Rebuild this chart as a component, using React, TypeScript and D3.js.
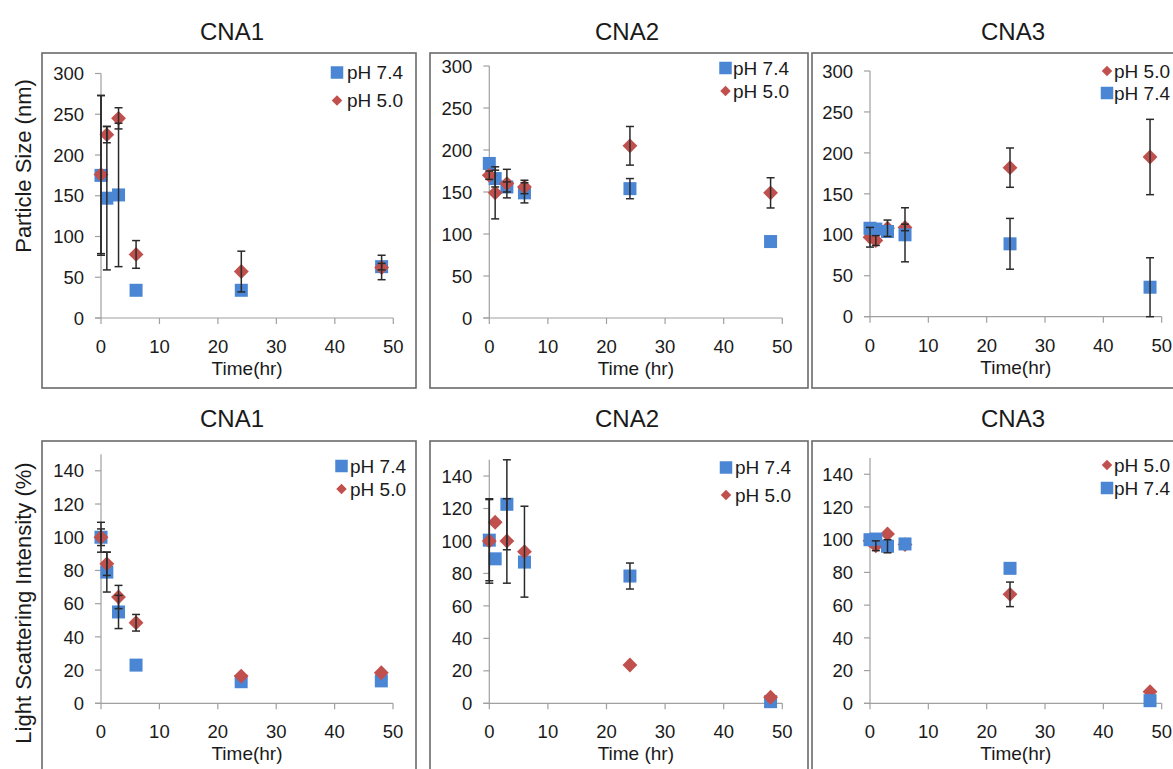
import { useEffect } from 'react'
import * as d3 from 'd3'

const TIMES = [0, 1, 3, 6, 24, 48]
const X_TICKS = [0, 10, 20, 30, 40, 50]
const Y_TICKS_SIZE = [0, 50, 100, 150, 200, 250, 300]
const Y_TICKS_LSI = [0, 20, 40, 60, 80, 100, 120, 140]

// particle size (nm)
const SIZE_CNA1_PH74 = [175, 147, 151, 34, 34, 63]
const SIZE_CNA1_PH74_ERR = [98, 88, 88, 0, 0, 4]
const SIZE_CNA1_PH50 = [176, 225, 245, 78, 57, 62]
const SIZE_CNA1_PH50_ERR = [97, 10, 13, 17, 25, 15]

const SIZE_CNA2_PH74 = [184, 166, 156, 149, 154, 91]
const SIZE_CNA2_PH74_ERR = [0, 10, 6, 12, 12, 0]
const SIZE_CNA2_PH50 = [170, 149, 160, 156, 205, 149]
const SIZE_CNA2_PH50_ERR = [5, 31, 17, 8, 23, 18]

const SIZE_CNA3_PH50 = [97, 93, 108, 109, 182, 195]
const SIZE_CNA3_PH50_ERR = [12, 6, 10, 4, 24, 46]
const SIZE_CNA3_PH74 = [108, 107, 104, 100, 89, 36]
const SIZE_CNA3_PH74_ERR = [0, 0, 0, 33, 31, 36]

// light scattering intensity (%)
const LSI_CNA1_PH74 = [100, 79, 55, 23, 13, 13.5]
const LSI_CNA1_PH74_ERR = [9, 12, 10, 0, 0, 0]
const LSI_CNA1_PH50 = [100, 84, 64, 48.5, 16.4, 18.4]
const LSI_CNA1_PH50_ERR = [5, 7, 7, 5, 0, 0]

const LSI_CNA2_PH74 = [100.5, 89, 122.6, 87, 78.4, 1]
const LSI_CNA2_PH74_ERR = [25, 0, 28, 0, 8, 0]
const LSI_CNA2_PH50 = [100, 111.5, 100, 93.4, 23.6, 3.7]
const LSI_CNA2_PH50_ERR = [26, 0, 26, 28, 0, 0]

const LSI_CNA3_PH50 = [99.4, 96.3, 103.5, 97, 66.6, 7.1]
const LSI_CNA3_PH50_ERR = [0, 3, 0, 0, 7.5, 0]
const LSI_CNA3_PH74 = [100, 100.4, 96, 97.4, 82.5, 1.6]
const LSI_CNA3_PH74_ERR = [0, 0, 4, 0, 0, 0]

const BLUE = '#4a86d4'
const RED = '#c0504d'
const FONT = '"Liberation Sans", Arial, sans-serif'

const ph74 = (values, errs) => ({ label: 'pH 7.4', kind: 'square', color: BLUE, values, errs })
const ph50 = (values, errs) => ({ label: 'pH 5.0', kind: 'diamond', color: RED, values, errs })

const PANELS = [
  {
    title: 'CNA1', frame: [42, 53, 374, 335], xr: [101, 393.3], yr: [318, 73.5], yMax: 300,
    yTicks: Y_TICKS_SIZE, xLabel: 'Time(hr)', titleX: 232, titleY: 40,
    series: [ph74(SIZE_CNA1_PH74, SIZE_CNA1_PH74_ERR), ph50(SIZE_CNA1_PH50, SIZE_CNA1_PH50_ERR)],
    legend: { mx: 337, tx: 347, rows: [72.5, 100.5] },
  },
  {
    title: 'CNA2', frame: [430, 53, 378, 335], xr: [489.3, 782.3], yr: [318, 66], yMax: 300,
    yTicks: Y_TICKS_SIZE, xLabel: 'Time (hr)', titleX: 627, titleY: 40,
    series: [ph74(SIZE_CNA2_PH74, SIZE_CNA2_PH74_ERR), ph50(SIZE_CNA2_PH50, SIZE_CNA2_PH50_ERR)],
    legend: { mx: 725.5, tx: 733, rows: [68, 91] },
  },
  {
    title: 'CNA3', frame: [812, 53, 380, 335], xr: [870, 1161.7], yr: [316.7, 71], yMax: 300,
    yTicks: Y_TICKS_SIZE, xLabel: 'Time(hr)', titleX: 1013, titleY: 40,
    series: [ph50(SIZE_CNA3_PH50, SIZE_CNA3_PH50_ERR), ph74(SIZE_CNA3_PH74, SIZE_CNA3_PH74_ERR)],
    legend: { mx: 1107, tx: 1114, rows: [71, 93] },
  },
  {
    title: 'CNA1', frame: [42, 441, 374, 335], xr: [101, 393], yr: [703.3, 454.2], yMax: 150,
    yTicks: Y_TICKS_LSI, xLabel: 'Time(hr)', titleX: 232, titleY: 427,
    series: [ph74(LSI_CNA1_PH74, LSI_CNA1_PH74_ERR), ph50(LSI_CNA1_PH50, LSI_CNA1_PH50_ERR)],
    legend: { mx: 341.5, tx: 350, rows: [466, 489] },
  },
  {
    title: 'CNA2', frame: [430, 441, 378, 335], xr: [489.3, 782.3], yr: [703.3, 459.8], yMax: 150,
    yTicks: Y_TICKS_LSI, xLabel: 'Time (hr)', titleX: 627, titleY: 427,
    series: [ph74(LSI_CNA2_PH74, LSI_CNA2_PH74_ERR), ph50(LSI_CNA2_PH50, LSI_CNA2_PH50_ERR)],
    legend: { mx: 726, tx: 735, rows: [467.5, 495] },
  },
  {
    title: 'CNA3', frame: [812, 441, 380, 335], xr: [870, 1161.7], yr: [703.3, 457.9], yMax: 150,
    yTicks: Y_TICKS_LSI, xLabel: 'Time(hr)', titleX: 1013, titleY: 427,
    series: [ph50(LSI_CNA3_PH50, LSI_CNA3_PH50_ERR), ph74(LSI_CNA3_PH74, LSI_CNA3_PH74_ERR)],
    legend: { mx: 1107, tx: 1114, rows: [465, 488] },
  },
]

function Marker({ kind, color, cx, cy, size }) {
  if (kind === 'square') {
    return <rect x={cx - size / 2} y={cy - size / 2} width={size} height={size} fill={color} />
  }
  const r = size * 0.55
  return <path d={`M${cx},${cy - r}L${cx + r},${cy}L${cx},${cy + r}L${cx - r},${cy}Z`} fill={color} />
}

function Panel({ p }) {
  const x = d3.scaleLinear().domain([0, 50]).range(p.xr)
  const y = d3.scaleLinear().domain([0, p.yMax]).range(p.yr)
  const [fx, fy, fw, fh] = p.frame
  const axisColor = '#a0a0a0'
  const y0 = y(0)
  const x0 = x(0)

  return (
    <g>
      <text x={p.titleX} y={p.titleY} textAnchor="middle" fontSize={24} fill="#1a1a1a">{p.title}</text>
      <rect x={fx} y={fy} width={fw} height={fh} fill="#fff" stroke="#6a6a6a" strokeWidth={1.6} />

      {/* axes */}
      <line x1={x0} x2={x0} y1={y0} y2={y(p.yMax)} stroke={axisColor} strokeWidth={1.2} />
      <line x1={x0 - 6} x2={x(50)} y1={y0} y2={y0} stroke={axisColor} strokeWidth={1.2} />
      {p.yTicks.map(t => (
        <g key={'y' + t}>
          <line x1={x0 - 6} x2={x0} y1={y(t)} y2={y(t)} stroke={axisColor} strokeWidth={1.2} />
          <text x={x0 - 17} y={y(t)} dy="0.36em" textAnchor="end" fontSize={18.5} fill="#1a1a1a">{t}</text>
        </g>
      ))}
      {X_TICKS.map(t => (
        <g key={'x' + t}>
          <line x1={x(t)} x2={x(t)} y1={y0} y2={y0 + 6} stroke={axisColor} strokeWidth={1.2} />
          <text x={x(t)} y={y0 + 35} textAnchor="middle" fontSize={18.5} fill="#1a1a1a">{t}</text>
        </g>
      ))}
      <text x={(p.xr[0] + p.xr[1]) / 2} y={y0 + 57} textAnchor="middle" fontSize={19} fill="#1a1a1a">{p.xLabel}</text>

      {/* markers */}
      {p.series.map(s => (
        <g key={s.label}>
          {TIMES.map((t, i) => (
            <Marker key={i} kind={s.kind} color={s.color} cx={x(t)} cy={y(s.values[i])} size={s.kind === 'square' ? 13 : 13.5} />
          ))}
        </g>
      ))}

      {/* error bars */}
      {p.series.map(s => (
        <g key={'e' + s.label} stroke="#2a2a2a" strokeWidth={1.5}>
          {TIMES.map((t, i) => {
            const e = s.errs[i]
            if (!e) return null
            const lo = y(Math.max(0, s.values[i] - e))
            const hi = y(Math.min(p.yMax, s.values[i] + e))
            const cx = x(t)
            return (
              <g key={i}>
                <line x1={cx} x2={cx} y1={lo} y2={hi} />
                <line x1={cx - 4} x2={cx + 4} y1={lo} y2={lo} />
                <line x1={cx - 4} x2={cx + 4} y1={hi} y2={hi} />
              </g>
            )
          })}
        </g>
      ))}

      {/* legend */}
      {p.series.map((s, i) => (
        <g key={'l' + s.label}>
          <Marker kind={s.kind} color={s.color} cx={p.legend.mx} cy={p.legend.rows[i]} size={s.kind === 'square' ? 12.5 : 9.5} />
          <text x={p.legend.tx} y={p.legend.rows[i]} dy="0.36em" fontSize={19} fill="#1a1a1a">{s.label}</text>
        </g>
      ))}
    </g>
  )
}

export default function App() {
  useEffect(() => {
    document.body.style.margin = '0'
    document.body.style.overflow = 'hidden'
  }, [])

  return (
    <svg width={1173} height={769} style={{ display: 'block', background: '#fff', fontFamily: FONT }}>
      {PANELS.map((p, i) => <Panel key={i} p={p} />)}
      <text transform="translate(23,166) rotate(-90)" dy="0.36em" textAnchor="middle" fontSize={22} fill="#1a1a1a">
        Particle Size (nm)
      </text>
      <text transform="translate(23,603) rotate(-90)" dy="0.36em" textAnchor="middle" fontSize={22} fill="#1a1a1a">
        Light Scattering Intensity (%)
      </text>
    </svg>
  )
}
